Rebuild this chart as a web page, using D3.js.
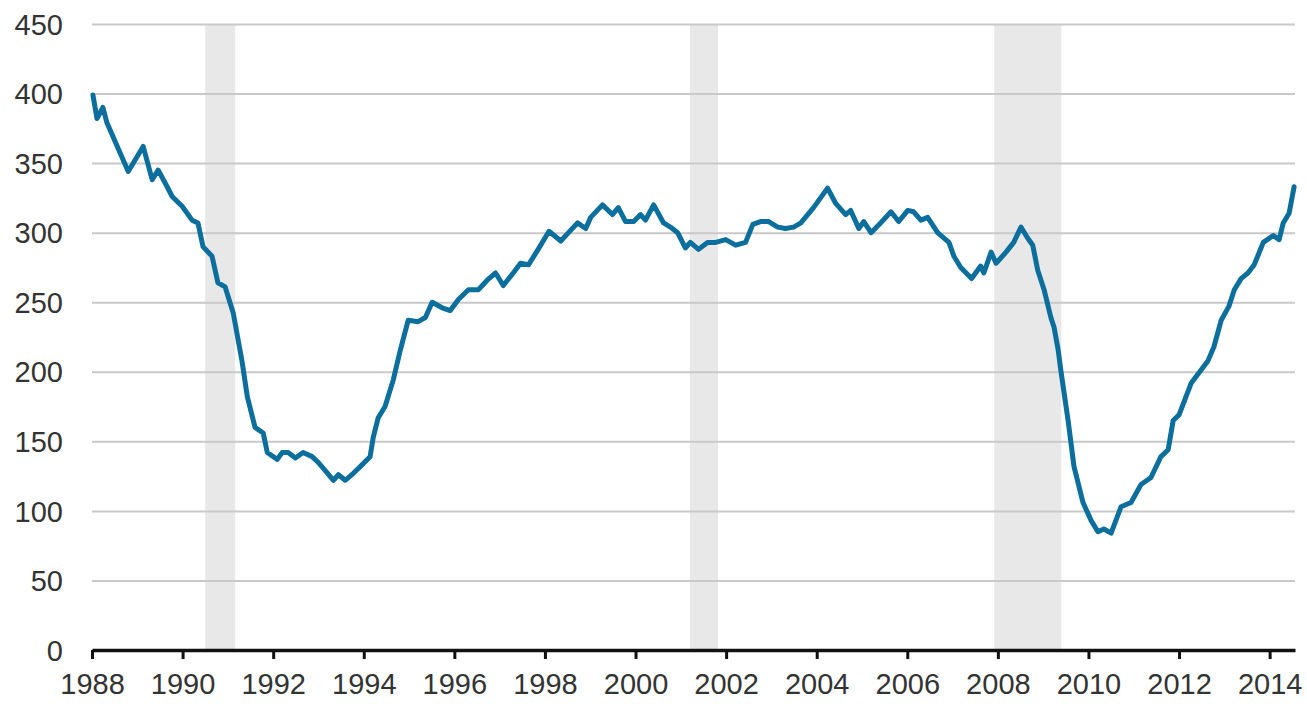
<!DOCTYPE html>
<html>
<head>
<meta charset="utf-8">
<script src="https://cdn.jsdelivr.net/npm/d3@7"></script>
<style>
  body { margin: 0; background: #fff; }
  text { font-family: "Liberation Sans", Arial, sans-serif; fill: #333; }
</style>
</head>
<body>
<div id="container"></div>
<script>
// decimal years and values
const years = [1988.02,1988.11,1988.24,1988.33,1988.80,1989.13,1989.33,1989.46,1989.66,1989.77,1989.99,
  1990.21,1990.34,1990.45,1990.65,1990.78,1990.94,1991.12,1991.31,1991.43,1991.60,1991.78,1991.87,
  1992.09,1992.20,1992.33,1992.49,1992.66,1992.86,1992.99,1993.15,1993.33,1993.44,1993.59,1993.77,1993.99,
  1994.14,1994.21,1994.32,1994.47,1994.65,1994.81,1994.98,1995.20,1995.36,1995.51,1995.73,1995.91,
  1996.09,1996.31,1996.53,1996.73,1996.91,1997.08,1997.30,1997.46,1997.64,1997.85,1998.09,1998.35,
  1998.52,1998.72,1998.90,1999.01,1999.27,1999.49,1999.62,1999.78,1999.96,2000.11,2000.22,2000.40,
  2000.62,2000.77,2000.93,2001.10,2001.21,2001.39,2001.59,2001.77,2001.99,2002.21,2002.43,2002.59,
  2002.76,2002.94,2003.14,2003.31,2003.49,2003.65,2003.93,2004.24,2004.42,2004.64,2004.75,2004.93,
  2005.04,2005.20,2005.41,2005.64,2005.81,2006.01,2006.14,2006.30,2006.45,2006.67,2006.92,2007.03,
  2007.18,2007.42,2007.62,2007.69,2007.85,2007.96,2008.18,2008.35,2008.51,2008.66,2008.77,2008.88,
  2009.02,2009.17,2009.24,2009.33,2009.39,2009.55,2009.68,2009.88,2010.06,2010.21,2010.34,2010.50,
  2010.72,2010.94,2011.16,2011.38,2011.60,2011.76,2011.87,2012.00,2012.27,2012.64,2012.77,2012.93,
  2013.10,2013.22,2013.37,2013.52,2013.66,2013.86,2014.08,2014.21,2014.30,2014.43,2014.54]
const values = [399,382,390,379,344,362,338,345,333,326,319,
  309,307,290,283,264,261,242,208,182,160,156,142,
  137,142,142,138,142,139,135,129,122,126,122,127,134,
  139,153,167,175,194,216,237,236,239,250,246,244,
  252,259,259,266,271,262,271,278,277,288,301,294,
  300,307,303,311,320,313,318,308,308,313,309,320,
  307,304,300,289,293,288,293,293,295,291,293,306,
  308,308,304,303,304,307,318,332,321,313,316,303,
  308,300,307,315,308,316,315,309,311,300,293,283,
  275,267,276,271,286,278,286,293,304,296,291,273,
  259,239,232,216,201,165,132,106,93,85,87,84,
  103,106,119,124,139,144,165,169,192,208,218,237,
  247,259,267,271,277,293,298,295,307,314,333]

// recession shading (start, end)
const recStart = [1990.5, 2001.2, 2007.92]
const recEnd   = [1991.16, 2001.82, 2009.4]

const yTicks = [0,50,100,150,200,250,300,350,400,450]
const xTicks = [1988,1990,1992,1994,1996,1998,2000,2002,2004,2006,2008,2010,2012,2014]

const W = 1307, H = 704
const margin = { top: 24, right: 12, bottom: 54, left: 92 }
const width = W - margin.left - margin.right
const height = H - margin.top - margin.bottom

const svg = d3.select("#container").append("svg")
  .attr("width", W)
  .attr("height", H)
  .append("g")
    .attr("transform", "translate(" + margin.left + "," + margin.top + ")")

const x = d3.scaleLinear().domain([1988, 2014.56]).range([0, width])
const y = d3.scaleLinear().domain([0, 450]).range([height, 0])

// grey recession bars
svg.selectAll("rect.rec")
  .data(recStart)
  .enter()
  .append("rect")
    .attr("class", "rec")
    .attr("x", (d, i) => x(d))
    .attr("width", (d, i) => x(recEnd[i]) - x(d))
    .attr("y", 0)
    .attr("height", height)
    .style("fill", "#e8e8e8")

// horizontal gridlines + y labels
const yAxis = svg.append("g")
  .call(d3.axisLeft(y).tickValues(yTicks).tickSize(-width).tickPadding(29))
yAxis.select(".domain").remove()
yAxis.selectAll(".tick line")
  .style("stroke", "#c9c9c9")
  .style("stroke-width", 2)
  .filter(d => d === 0).remove()
yAxis.selectAll(".tick text")
  .style("font-size", "29px")
  .style("fill", "#333")
  .attr("dy", "0.35em")

// the series
const data = years.map((d, i) => ({ t: d, v: values[i] }))
svg.append("path")
  .datum(data)
  .attr("d", d3.line().x(d => x(d.t)).y(d => y(d.v)))
  .style("fill", "none")
  .style("stroke", "#0b6e9c")
  .style("stroke-width", 5)
  .style("stroke-linejoin", "round")
  .style("stroke-linecap", "round")

// bottom axis
const xAxis = svg.append("g")
  .attr("transform", "translate(0," + height + ")")
  .call(d3.axisBottom(x).tickValues(xTicks).tickFormat(d3.format("d")).tickSize(9).tickSizeOuter(0).tickPadding(14))
xAxis.select(".domain")
  .style("stroke", "#111")
  .style("stroke-width", 3.5)
xAxis.selectAll(".tick line")
  .style("stroke", "#111")
  .style("stroke-width", 3)
xAxis.selectAll(".tick text")
  .style("font-size", "29px")
  .style("fill", "#333")
</script>
</body>
</html>
